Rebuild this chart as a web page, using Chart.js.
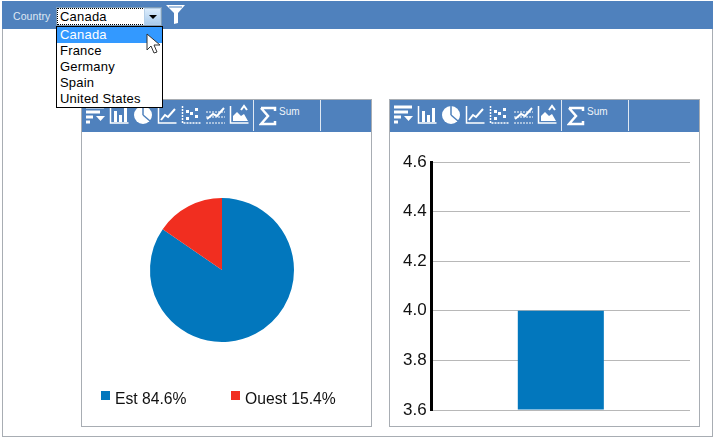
<!DOCTYPE html>
<html lang="en">
<head>
<meta charset="UTF-8">
<title>Country dashboard</title>
<script src="https://cdn.jsdelivr.net/npm/chart.js@4"></script>
<style>
  * { box-sizing: border-box; margin: 0; padding: 0; }
  html, body { width: 714px; height: 438px; background: #fff; overflow: hidden; font-family: "Liberation Sans", Arial, sans-serif; }
  .abs { position: absolute; }
  #frame { left: 2px; top: 1px; width: 711px; height: 436px; border: 1px solid #a8adb3; }
  #topbar { left: 2px; top: 1px; width: 711px; height: 28px; background: #4f81bd; }
  #country { left: 13px; top: 10px; font-size: 10.5px; letter-spacing: 0.1px; color: #dfe8f3; }
  #combo { left: 56px; top: 7px; width: 106px; height: 19px; background: #fff; border: 1px solid #7f9db9; z-index: 5; }
  #comboText { left: 0; top: 0; width: 88px; height: 17px; border: 1px dotted #000; font-size: 13px; line-height: 15px; padding-left: 2px; letter-spacing: 0.2px; color: #000; }
  #comboBtn { right: 0; top: 0; width: 17px; height: 17px; background: linear-gradient(#dcecfb, #a9cbec); border: 1px solid #b5cfe8; }
  #comboBtn:after { content: ""; position: absolute; left: 4px; top: 6px; border: 4px solid transparent; border-top: 4px solid #000; }
  #list { left: 56px; top: 26px; width: 107px; height: 82px; background: #fff; border: 1px solid #000; font-size: 13px; letter-spacing: 0.2px; color: #000; z-index: 5; }
  #list div { height: 16px; line-height: 16px; padding-left: 3px; }
  #list div.sel { background: #3399ff; color: #fff; }
  #cursor { z-index: 6; }
  .panel { top: 99px; height: 328px; border: 1px solid #a8adb3; background: #fff; }
  .tools { left: 0; top: 0; right: 0; height: 32px; background: #4f81bd; }
  .sep { top: 0; width: 1px; height: 31px; background: #dfe8f3; }
  .sum { left: 197px; top: 6px; font-size: 10px; color: #eef3f9; }
  .tools svg { position: absolute; top: 4px; }
  canvas { display: block; }
  #pieWrap { left: 0; top: 31px; width: 289px; height: 295px; }
  #barWrap { left: 0; top: 31px; width: 308px; height: 295px; }
  .key { top: 290px; font-size: 15.7px; line-height: 18px; color: #111; white-space: nowrap; }
  .swatch { top: 291px; width: 9px; height: 9px; }
</style>
</head>
<body>
<div class="abs" id="frame"></div>
<div class="abs" id="topbar"></div>
<div class="abs" id="country">Country</div>
<svg class="abs" style="left:165px;top:3px" width="21" height="22" viewBox="0 0 21 22">
  <path d="M1 2h19L13 10v10l-4 1V10z" fill="#fff"/><path d="M4 4h13" stroke="#4f81bd" stroke-width="1"/>
</svg>
<div class="abs" id="combo">
  <div class="abs" id="comboText">Canada</div>
  <div class="abs" id="comboBtn"></div>
</div>
<div class="abs" id="list"></div>

<div class="abs panel" style="left:81px;width:291px">
  <div class="abs tools"></div>
  <div class="abs" id="pieWrap"><canvas id="pie" width="289" height="295"></canvas></div>
  <div id="pieKey"></div>
</div>
<div class="abs panel" style="left:389px;width:311px">
  <div class="abs tools"></div>
  <div class="abs" id="barWrap"><canvas id="bar" width="309" height="295"></canvas></div>
</div>

<svg class="abs" id="cursor" style="left:146px;top:33px" width="16" height="22" viewBox="0 0 16 22">
  <path d="M1 1v16l4-4 3 7 3-1-3-7h6z" fill="#fff" stroke="#333" stroke-width="1"/>
</svg>

<script>
const countries = ['Canada', 'France', 'Germany', 'Spain', 'United States'];
const selectedCountry = 'Canada';
const regions = ['Est', 'Ouest'];
const regionShares = [84.6, 15.4];
const regionColors = ['#0277bd', '#f12e20'];
const barLabels = ['Canada'];
const barValues = [4.0];
const FONT = '"Liberation Sans", Arial, sans-serif';

// dropdown rows
document.getElementById('list').innerHTML = countries
  .map(c => `<div class="${c === selectedCountry ? 'sel' : ''}">${c}</div>`).join('');

// toolbar icons, all white on the header blue
const icons = [
  '<path d="M1 3h18M1 8h14M1 13h7M1 18h4" stroke="#fff" stroke-width="3"/><path d="M11 12h9l-4.500 5z" fill="#fff"/>',
  '<path d="M1.500 2v17h18" stroke="#fff" fill="none" stroke-width="1.500"/><path d="M5 7h3v11H5zM10 11h3v7h-3zM15 4h3v14h-3z" fill="#fff"/>',
  '<circle cx="10" cy="11" r="9" fill="#fff"/><path d="M10 11V2M10 11l7 6" stroke="#4f81bd" stroke-width="1.500"/>',
  '<path d="M1.500 2v17h18" stroke="#fff" fill="none" stroke-width="1.500"/><path d="M4 16l4-5 3 2 7-8" stroke="#fff" fill="none" stroke-width="2"/>',
  '<path d="M1.500 2v17h18" stroke="#fff" fill="none" stroke-width="1.500" stroke-dasharray="2 1"/><path d="M5 13h3v3H5zM9 8h3v3H9zM14 4h3v3h-3zM14 11h3v3h-3zM5 6h3v3H5z" fill="#fff"/>',
  '<path d="M1 8h19M1 13h19M1 19h19" stroke="#fff" stroke-dasharray="2 1"/><path d="M2 15l6-5 4 2 7-8" stroke="#fff" fill="none" stroke-width="2"/>',
  '<path d="M1.500 2v17h18" stroke="#fff" fill="none" stroke-width="1.500"/><path d="M4 17v-5l4-4 4 4 3-2 4 7z" fill="#fff"/><path d="M12 6l3-4 3 4" stroke="#fff" fill="none" stroke-width="2"/>'
];
const sigma = '<path d="M2 2h14v3M16 18H2l7-8-7-8M2 18h14v-3" stroke="#fff" fill="none" stroke-width="2.500"/>';

document.querySelectorAll('.tools').forEach(bar => {
  let html = icons.map((p, i) =>
    `<svg style="left:${3 + i * 24}px" width="21" height="22" viewBox="0 0 21 22">${p}</svg>`).join('');
  html += '<div class="abs sep" style="left:171px"></div>';
  html += `<svg style="left:177px;top:6px" width="18" height="20" viewBox="0 0 18 20">${sigma}</svg>`;
  html += '<div class="abs sum">Sum</div>';
  html += '<div class="abs sep" style="left:238px"></div>';
  bar.innerHTML = html;
});

// legend is html so the swatch-to-text gap can match
const keyLeft = [19, 149];
document.getElementById('pieKey').innerHTML = regions.map((r, i) =>
  `<div class="abs swatch" style="left:${keyLeft[i]}px;background:${regionColors[i]}"></div>` +
  `<div class="abs key" style="left:${keyLeft[i] + 14}px">${r} ${regionShares[i]}%</div>`).join('');

new Chart(document.getElementById('pie'), {
  type: 'pie',
  data: {
    labels: regions,
    datasets: [{ data: regionShares, backgroundColor: regionColors, borderWidth: 0, radius: 72 }],
  },
  options: {
    responsive: false,
    animation: false,
    layout: { padding: { right: 9, bottom: 17 } },
    plugins: { tooltip: { enabled: false }, legend: { display: false } },
  },
});

new Chart(document.getElementById('bar'), {
  type: 'bar',
  data: {
    labels: barLabels,
    datasets: [{ data: barValues, backgroundColor: regionColors[0], categoryPercentage: 1, barPercentage: 0.333, base: 3.6 }],
  },
  options: {
    responsive: false,
    animation: false,
    layout: { padding: { top: 31, right: 9, bottom: 8, left: 8 } },
    plugins: { legend: { display: false }, tooltip: { enabled: false } },
    scales: {
      x: { ticks: { display: false }, grid: { display: false }, border: { display: false } },
      y: {
        min: 3.6,
        max: 4.6,
        ticks: { stepSize: 0.2, color: '#111', font: { family: FONT, size: 17 }, padding: 5, callback: v => v.toFixed(1) },
        grid: { color: '#b8b8b8', drawTicks: false },
        border: { color: '#000', width: 3 },
      },
    },
  },
});
</script>
</body>
</html>
